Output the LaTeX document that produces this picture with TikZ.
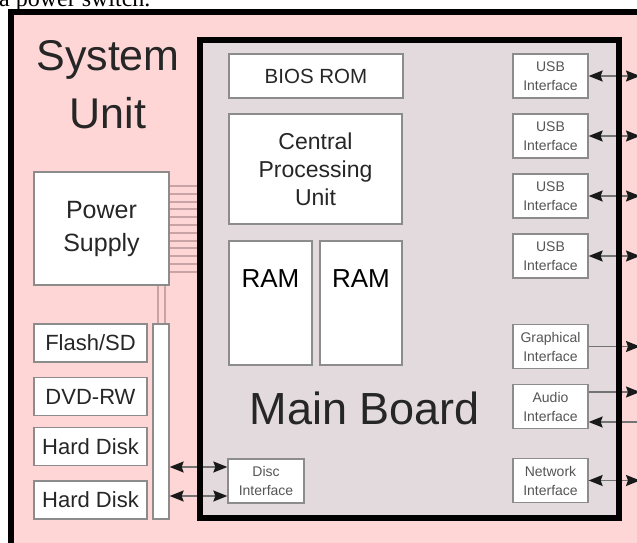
\documentclass[tikz,border=0pt]{standalone}
\usepackage{fontspec}
\setmainfont{Liberation Sans}
\newfontfamily\pageserif{Liberation Serif}
\usetikzlibrary{arrows.meta}

\definecolor{unitpink}{RGB}{255,214,214}
\definecolor{boardgrey}{RGB}{226,218,220}
\definecolor{boxedge}{RGB}{140,140,140}
\definecolor{cablepink}{RGB}{200,164,167}
\definecolor{labelgrey}{RGB}{85,85,85}

\begin{document}
\begin{tikzpicture}[%
  x=1pt, y=-1pt,
  part/.style = {draw=boxedge, line width=1.3pt, fill=white, inner sep=0pt,
                 align=center, text=black!85},
  port/.style = {part, minimum width=75pt, minimum height=44pt, text=labelgrey,
                 font=\fontsize{14}{19}\selectfont},
  drive/.style = {part, minimum width=113pt, minimum height=38pt,
                  font=\fontsize{22}{26}\selectfont},
  ramchip/.style = {part, minimum width=83pt, minimum height=124pt,
                    label={[anchor=north, yshift=-29pt, inner sep=0pt,
                    font=\fontsize{26}{26}\selectfont]north:RAM}},
  link/.style = {draw=black!55, line width=1.4pt},
  cable/.style = {draw=cablepink, line width=2pt},
  >={Stealth[length=14pt,width=11pt,inset=2pt,color=black!90]},
]
  \useasboundingbox (0,0) rectangle (637,543);
  \clip (0,0) rectangle (637,543);

  \filldraw[fill=unitpink, line width=6pt] (10.5,12) rectangle (700,600);
  \fill[boardgrey] (200,40) rectangle (619,518);

  \node[font=\pageserif\fontsize{24}{24}\selectfont, anchor=base west, inner sep=0pt]
    (caption) at (-1,7) {a power switch.};

  \node[font=\fontsize{43}{58}\selectfont, align=center, anchor=north, inner sep=0pt,
    text=black!85] (unitname) at (108,40) {System\\Unit};
  \node[font=\fontsize{45}{45}\selectfont, anchor=base, inner sep=0pt, text=black!85]
    (boardname) at (365,424) {Main Board};

  \foreach \k [evaluate=\k as \y using 186+7.8*\k] in {0,...,11}
    \draw[cable] (169.6,\y) -- (197,\y);
  \foreach \x in {158,165}
    \draw[cable] (\x,285) -- (\x,324);

  \node[part, minimum width=135pt, minimum height=113pt,
    font=\fontsize{25}{33}\selectfont] (psu) at (101.5,228.5) {Power\\Supply};

  \node[drive] (flash) at (90.5,343) {Flash/SD};
  \node[drive] (dvd)   at (90.5,396.5) {DVD-RW};
  \node[drive] (hdd1)  at (90.5,446.5) {Hard Disk};
  \node[drive] (hdd2)  at (90.5,500) {Hard Disk};
  \node[part, minimum width=16pt, minimum height=195pt] (bus) at (161,421.5) {};

  \node[part, minimum width=174pt, minimum height=44pt,
    font=\fontsize{20.5}{24}\selectfont] (bios) at (316,76) {BIOS ROM};
  \node[part, minimum width=173pt, minimum height=110pt,
    font=\fontsize{23}{28}\selectfont] (cpu) at (315.5,169) {Central\\Processing\\Unit};
  \node[ramchip] (ram1) at (270.5,303) {};
  \node[ramchip, minimum width=82pt] (ram2) at (361,303) {};

  \foreach \n/\y in {1/76,2/136,3/196,4/256}
    \node[port] (usb\n) at (550.5,\y) {USB\\Interface};
  \node[port] (gfx)   at (550.5,346.5) {Graphical\\Interface};
  \node[port] (audio) at (550.5,406.5) {Audio\\Interface};
  \node[port] (net)   at (550.5,480.5) {Network\\Interface};
  \node[port, minimum width=76pt] (disc) at (266,481) {Disc\\Interface};

  \coordinate (rim) at (640,0);
  \coordinate (audioout) at ([yshift=14.5pt]audio.east);
  \coordinate (audioin)  at ([yshift=-15.5pt]audio.east);
  \coordinate (discA) at ([yshift=14pt]disc.west);
  \coordinate (discB) at ([yshift=-15pt]disc.west);

  \foreach \n in {1,...,4}
    \draw[link, <->] (usb\n.east) -- (usb\n.east -| rim);
  \draw[link, ->] (gfx.east) -- (gfx.east -| rim);
  \draw[link, ->] (audioout) -- (audioout -| rim);
  \draw[link, <-] (audioin) -- (audioin -| rim);
  \draw[link, <->] (net.east) -- (net.east -| rim);
  \draw[link, <->] (bus.east |- discA) -- (discA);
  \draw[link, <->] (bus.east |- discB) -- (discB);

  \draw[line width=6pt] (200,40) rectangle (619,518);

\end{tikzpicture}
\end{document}
